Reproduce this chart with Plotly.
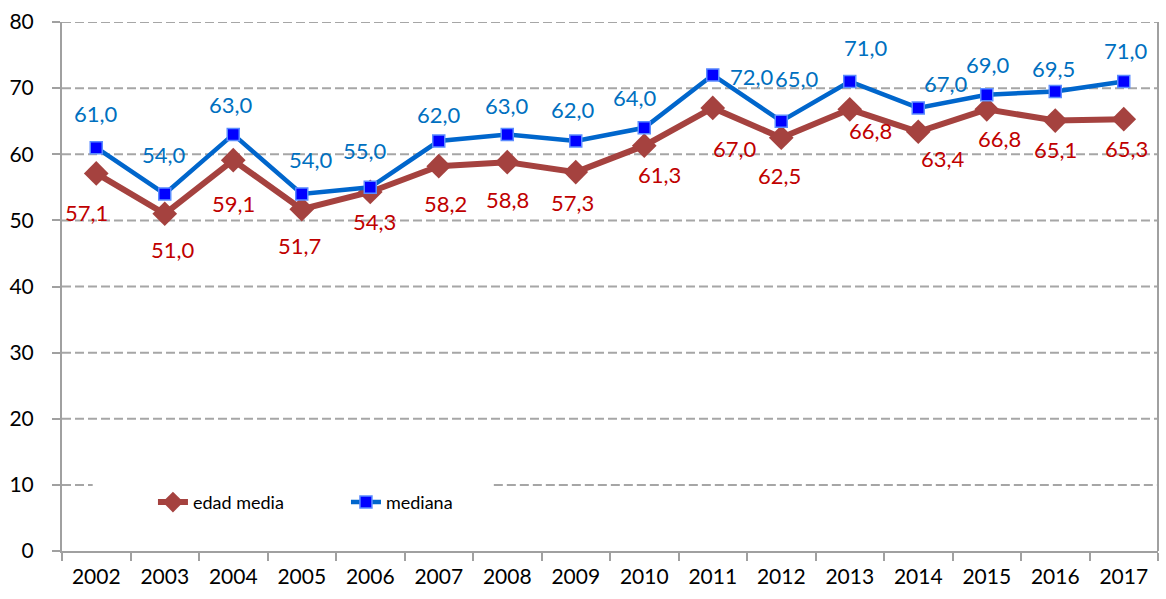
#############################################
# Edad media y mediana por año, 2002 - 2017 #
#############################################


# imports
import plotly.graph_objects as go


# data
years = [str(y) for y in range(2002, 2018)]
edad_media = [57.1, 51.0, 59.1, 51.7, 54.3, 58.2, 58.8, 57.3, 61.3, 67.0, 62.5, 66.8, 63.4, 66.8, 65.1, 65.3]
mediana = [61.0, 54.0, 63.0, 54.0, 55.0, 62.0, 63.0, 62.0, 64.0, 72.0, 65.0, 71.0, 67.0, 69.0, 69.5, 71.0]
y_ticks = list(range(0, 81, 10))

# label offsets in px (dx, dy), screen direction
media_off = [(-10, 39), (8, 36), (0, 43), (-2, 36), (4, 30), (7, 37), (0, 37), (-3, 30),
             (15, 29), (22, 41), (-2, 38), (21, 21), (25, 27), (13, 29), (0, 29), (3, 29)]
mediana_off = [(0, -34), (-1, -39), (-2, -30), (9, -34), (-5, -37), (0, -27), (0, -29), (-3, -32),
               (-9, -30), (39, 2), (16, -43), (16, -34), (28, -24), (1, -30), (-2, -23), (2, -31)]

FONT = 'Lato'
RED_LINE = '#A5423F'
RED_TEXT = '#C00000'
BLUE_LINE = '#0066CC'
BLUE_TEXT = '#0070C0'
GRID = '#A6A6A6'
AXIS = '#A0A0A0'
LEGEND_GAP = (0.028, 0.394)   # part of the y=10 gridline hidden behind the legend


def fmt(v):
    # spanish decimal comma
    return '{:.1f}'.format(v).replace('.', ',')


fig = go.Figure()
fig.add_trace(go.Scatter(x=years, y=edad_media, name='edad media', mode='lines+markers',
                         line=dict(color=RED_LINE, width=6),
                         marker=dict(symbol='diamond', size=19, color=RED_LINE)))
fig.add_trace(go.Scatter(x=years, y=mediana, name='mediana', mode='lines+markers',
                         line=dict(color=BLUE_LINE, width=4.5),
                         marker=dict(symbol='square', size=12, color='#0000FF',
                                     line=dict(color='#5B8CFF', width=1.5))))

# data labels (x as category index, so '2002' is not read as a position)
for vals, offs, col in [(edad_media, media_off, RED_TEXT), (mediana, mediana_off, BLUE_TEXT)]:
    for i, (v, (dx, dy)) in enumerate(zip(vals, offs)):
        fig.add_annotation(x=i, y=v, text=fmt(v), showarrow=False,
                           xshift=dx, yshift=-dy,
                           font=dict(family=FONT, size=22, color=col))

# dashed gridlines, the y=10 one broken where the legend sits
grid_line = dict(color=GRID, width=2, dash='9px,4px')
for t in y_ticks[1:]:
    spans = [(0, LEGEND_GAP[0]), (LEGEND_GAP[1], 1)] if t == 10 else [(0, 1)]
    for a, b in spans:
        fig.add_shape(type='line', xref='paper', yref='y', x0=a, x1=b, y0=t, y1=t,
                      line=grid_line, layer='below')
# right border of plot area
fig.add_shape(type='line', xref='paper', yref='paper', x0=1, x1=1, y0=0, y1=1,
              line=dict(color=AXIS, width=2))

fig.update_xaxes(type='category', range=[-0.5, len(years) - 0.5],
                 showgrid=False, showline=True, linecolor=AXIS, linewidth=2,
                 ticks='outside', tickson='boundaries', ticklen=8, tickwidth=1.5, tickcolor=AXIS,
                 tickfont=dict(family=FONT, size=21, color='black'), ticklabelstandoff=6)
fig.update_yaxes(range=[0, 80], tickvals=y_ticks, showgrid=False, zeroline=False,
                 showline=True, linecolor=AXIS, linewidth=2,
                 ticks='outside', ticklen=8, tickwidth=1.5, tickcolor=AXIS,
                 tickfont=dict(family=FONT, size=21, color='black'), ticklabelstandoff=14)

fig.update_layout(width=1166, height=599, plot_bgcolor='white', paper_bgcolor='white',
                  margin=dict(l=62, r=8, t=20, b=48),
                  showlegend=True,
                  legend=dict(orientation='h', x=0.083, y=0.092, xanchor='left', yanchor='middle',
                              bgcolor='rgba(0,0,0,0)', entrywidth=148,
                              font=dict(family=FONT, size=18, color='black')))

# page body has a default margin, drop it so the figure fills the window
fig.write_html("out.html", config={'displayModeBar': False},
               post_script="document.body.style.margin='0';")
